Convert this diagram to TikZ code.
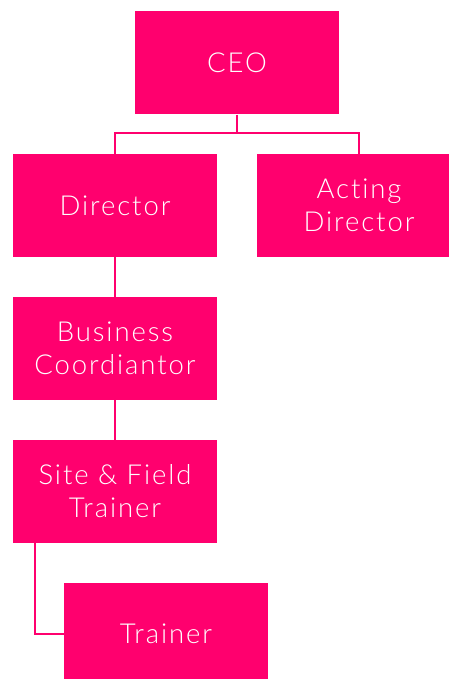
\documentclass[tikz,border=0pt]{standalone}
\usepackage{fontspec}
\setmainfont{Lato Light}[LetterSpace=7,Ligatures={NoCommon,NoRequired}]
\definecolor{hot}{HTML}{FF006E}
\begin{document}
\begin{tikzpicture}[x=1pt,y=-1pt,
  box/.style={fill=hot,draw=none,minimum width=204pt,minimum height=103pt,inner sep=0pt,text=white,font=\fontsize{27.5}{33}\selectfont,align=center},
  link/.style={draw=hot,line width=2pt}]
\useasboundingbox (0,0) rectangle (449,679);
\clip (0,0) rectangle (449,679);
\node[box] (ceo) at (237,63) {CEO};
\node[box] (dir) at (115,205.5) {Director};
\node[box] (act) at (359,205.5) {Acting\\Director};
\node[box] (bus) at (115,348.5) {Business\\Coordiantor};
\node[box] (site) at (115,491.5) {Site \& Field\\Trainer};
\node[box] (tr) at (166,634) {Trainer};
\coordinate (fork) at (237,133.5);
\coordinate (bend) at (35,634);
\draw[link] (ceo.south) -- (fork) -| (dir.north);
\draw[link] (fork) -| (act.north);
\draw[link] (dir.south) -- (bus.north);
\draw[link] (bus.south) -- (site.north);
\draw[link] (site.south -| bend) -- (bend) -- (tr.west);
\end{tikzpicture}
\end{document}
